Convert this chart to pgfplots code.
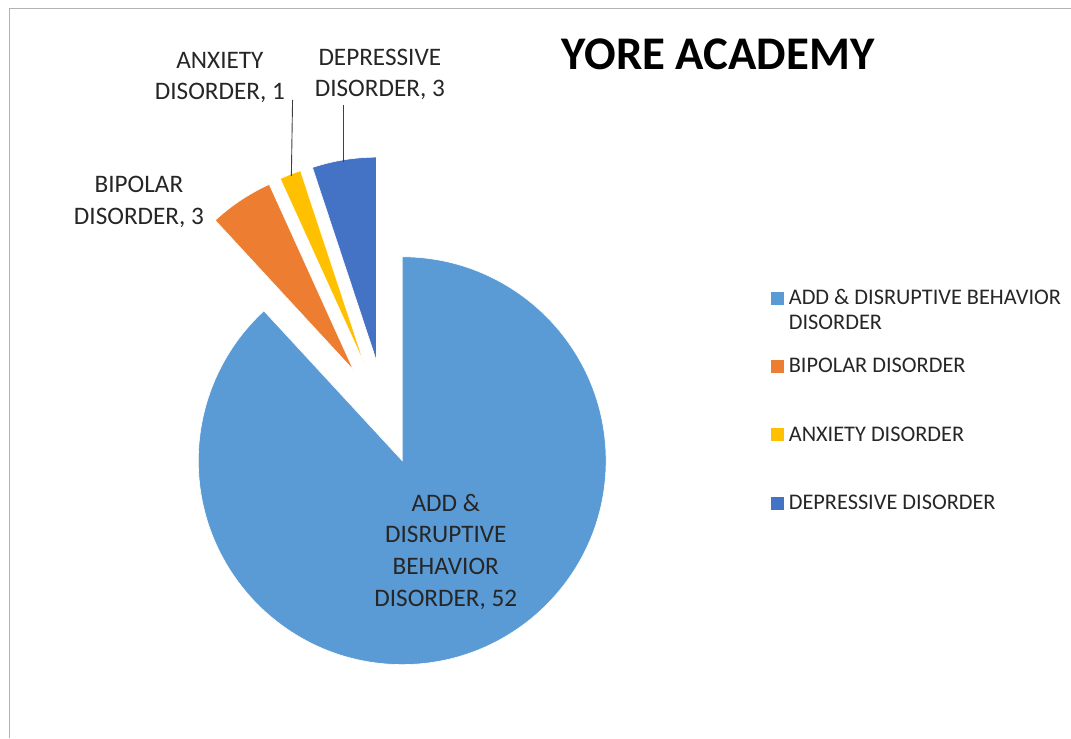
\documentclass[border=0pt]{standalone}
\usepackage{pgfplots}
\pgfplotsset{compat=1.18}
\usepackage{fontspec}
\setmainfont{Carlito}
\definecolor{cADD}{HTML}{5B9BD5}
\definecolor{cBIP}{HTML}{ED7D31}
\definecolor{cANX}{HTML}{FFC000}
\definecolor{cDEP}{HTML}{4472C4}
\definecolor{txt}{HTML}{262626}
% slice: color, cumulative value before, value, explode distance (bp)
\newcommand\slice[4]{%
  \pgfmathsetmacro\sst{90-(#2)/59*360}%
  \pgfmathsetmacro\sw{(#3)/59*360}%
  \pgfmathsetmacro\se{\sst-\sw}%
  \pgfmathsetmacro\sm{\sst-\sw/2}%
  \pgfmathsetmacro\vx{386+#4*cos(\sm)}%
  \pgfmathsetmacro\vy{319+#4*sin(\sm)}%
  \edef\temp{\noexpand\fill[#1, draw=white, line width=0.6bp] (axis cs:\vx,\vy) -- ++(\sst:204bp) arc[start angle=\sst, end angle=\se, radius=204bp] -- cycle;}%
  \temp}
\newcommand\dl[3]{\node[anchor=base, inner sep=0pt, text=txt, font=\fontsize{25.3}{30}\selectfont] at (axis cs:#1,#2) {#3};}
\newcommand\legitem[3]{%
  \fill[#1] (axis cs:771,#2) rectangle (axis cs:784,{#2+13});
  \node[anchor=base west, inner sep=0pt, text=txt, font=\fontsize{22.4}{26}\selectfont] at (axis cs:789,#2) {#3};}
\begin{document}
\begin{tikzpicture}
\begin{axis}[x=1bp, y=1bp, xmin=0, xmax=1071, ymin=0, ymax=738, hide axis, clip=false]
\path (axis cs:0,0) rectangle (axis cs:1071,738);
\draw[black!30, line width=1bp] (axis cs:10,0) -- (axis cs:10,729) -- (axis cs:1071,729);
% values: ADD 52, BIPOLAR 3, ANXIETY 1, DEPRESSIVE 3
\slice{cADD}{0}{52}{45}
\slice{cBIP}{52}{3}{58.5}
\slice{cANX}{55}{1}{58.5}
\slice{cDEP}{56}{3}{58.5}
% leader lines
\draw[black!75, line width=0.9bp] (axis cs:343.3,633) -- (axis cs:343.3,576);
\draw[black!75, line width=0.9bp] (axis cs:292.7,638) -- (axis cs:291.5,562);
% title
\node[anchor=base, inner sep=0pt, font=\fontsize{47}{52}\selectfont\bfseries] at (axis cs:718.5,668.7) {YORE ACADEMY};
% data labels
\dl{446}{226}{ADD \&}
\dl{446}{195}{DISRUPTIVE}
\dl{446}{163}{BEHAVIOR}
\dl{446}{131}{DISORDER, 52}
\dl{139}{545}{BIPOLAR}
\dl{139}{513}{DISORDER, 3}
\dl{220}{669}{ANXIETY}
\dl{220}{638}{DISORDER, 1}
\dl{380}{672}{DEPRESSIVE}
\dl{380}{641}{DISORDER, 3}
% legend
\legitem{cADD}{433}{ADD \& DISRUPTIVE BEHAVIOR}
\node[anchor=base west, inner sep=0pt, text=txt, font=\fontsize{22.4}{26}\selectfont] at (axis cs:789,408) {DISORDER};
\legitem{cBIP}{365.3}{BIPOLAR DISORDER}
\legitem{cANX}{296.3}{ANXIETY DISORDER}
\legitem{cDEP}{228}{DEPRESSIVE DISORDER}
\end{axis}
\end{tikzpicture}
\end{document}
